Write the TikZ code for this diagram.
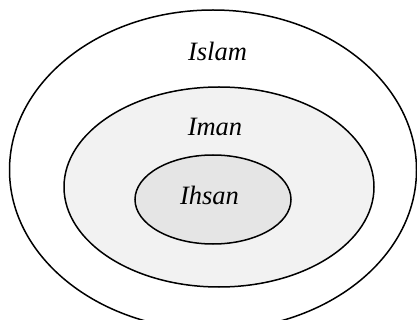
\documentclass[tikz,border=0pt]{standalone}
\usepackage{fontspec}
\setmainfont{Liberation Serif}
\begin{document}
\begin{tikzpicture}[x=1pt,y=-1pt,
  ring/.style={draw=black,line width=1.5pt},
  lbl/.style={anchor=base,inner sep=0pt,font=\fontsize{26.5}{30}\selectfont\itshape}]
\useasboundingbox (0,0) rectangle (417,320);
\begin{scope}
\clip (0,0) rectangle (417,320);
\draw[ring,fill=white] (213,170) ellipse [x radius=203.5,y radius=160];
\draw[ring,fill=black!5] (219,187) ellipse [x radius=155,y radius=100];
\draw[ring,fill=black!10] (213,199.5) ellipse [x radius=78,y radius=44.5];
\end{scope}
\node[lbl] (islam) at (217.5,61) {Islam};
\node[lbl] (iman) at (215,136) {Iman};
\node[lbl] (ihsan) at (209.5,204.5) {Ihsan};
\end{tikzpicture}
\end{document}
